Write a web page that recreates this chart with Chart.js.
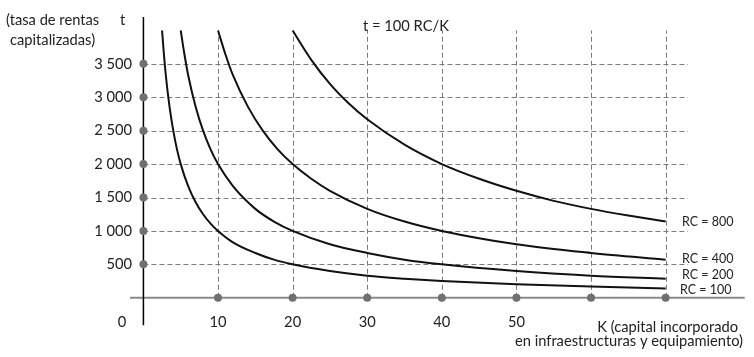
<!DOCTYPE html>
<html>
<head>
<meta charset="utf-8">
<script src="https://cdn.jsdelivr.net/npm/chart.js@4/dist/chart.umd.min.js"></script>
<style>
  body { margin: 0; background: #fff; }
  #wrap { width: 754px; height: 357px; }
</style>
</head>
<body>
<div id="wrap"><canvas id="rentasChart"></canvas></div>
<script>
// curves t = 100 RC / K
const k100 = [2.5, 2.75, 3, 3.5, 4, 4.5, 5, 6, 7, 8, 9, 10, 12, 15, 17.5, 20, 25, 30, 35, 40, 50, 60, 70];
const t100 = [4000, 3640, 3330, 2860, 2500, 2220, 2000, 1670, 1430, 1250, 1110, 1000, 830, 670, 570, 500, 400, 330, 285, 250, 200, 170, 140];
const k200 = [5, 5.5, 6, 7, 8, 9, 10, 12, 15, 17.5, 20, 25, 30, 35, 40, 50, 60, 70];
const t200 = [4000, 3640, 3330, 2860, 2500, 2220, 2000, 1670, 1330, 1140, 1000, 800, 670, 570, 500, 400, 330, 285];
const k400 = [10, 11, 12, 14, 16, 18, 20, 22.5, 25, 30, 35, 40, 50, 60, 70];
const t400 = [4000, 3640, 3330, 2860, 2500, 2220, 2000, 1780, 1600, 1330, 1140, 1000, 800, 670, 570];
const k800 = [20, 22.5, 25, 27.5, 30, 35, 40, 45, 50, 55, 60, 65, 70];
const t800 = [4000, 3560, 3200, 2910, 2670, 2290, 2000, 1780, 1600, 1450, 1330, 1230, 1140];

const curveNames = ['RC = 100', 'RC = 200', 'RC = 400', 'RC = 800'];
const curveLabelY = [115, 340, 580, 1135];

const xTicks = [10, 20, 30, 40, 50, 60, 70];
const xTickLabels = ['10', '20', '30', '40', '50', '', ''];
const yTicks = [500, 1000, 1500, 2000, 2500, 3000, 3500];
const yTickLabels = ['500', '1 000', '1 500', '2 000', '2 500', '3 000', '3 500'];

const FONT = 'Lato, "Open Sans", sans-serif';

const toPoints = (ks, ts) => ks.map((k, i) => ({ x: k, y: ts[i] }));

const curve = (ks, ts) => ({
  type: 'line',
  data: toPoints(ks, ts),
  borderColor: '#111',
  borderWidth: 2,
  pointRadius: 0,
  cubicInterpolationMode: 'monotone',
  fill: false,
  order: 2
});

const decor = {
  id: 'decor',
  beforeDatasetsDraw(chart) {
    const { ctx, scales: { x, y } } = chart;
    const seg = (x1, y1, x2, y2) => { ctx.beginPath(); ctx.moveTo(x1, y1); ctx.lineTo(x2, y2); ctx.stroke(); };
    ctx.save();
    // dashed grid
    ctx.strokeStyle = '#7a7a7a';
    ctx.lineWidth = 1;
    ctx.setLineDash([5, 3]);
    yTicks.forEach(v => {
      const py = Math.round(y.getPixelForValue(v)) + 0.5;
      seg(x.getPixelForValue(0), py, x.getPixelForValue(73), py);
    });
    xTicks.forEach(v => {
      const px = Math.round(x.getPixelForValue(v)) + 0.5;
      seg(px, y.getPixelForValue(0), px, y.getPixelForValue(4000));
    });
    ctx.setLineDash([]);
    // axes
    ctx.strokeStyle = '#8a8a8a';
    ctx.lineWidth = 2;
    seg(x.getPixelForValue(-1.8), y.getPixelForValue(0), x.getPixelForValue(80.6), y.getPixelForValue(0));
    ctx.strokeStyle = '#000';
    ctx.lineWidth = 1.5;
    seg(x.getPixelForValue(0), y.getPixelForValue(4200), x.getPixelForValue(0), y.getPixelForValue(-410));
    ctx.restore();
  },
  afterDraw(chart) {
    const { ctx, scales: { x, y } } = chart;
    ctx.save();
    ctx.fillStyle = '#222';
    ctx.textBaseline = 'middle';
    ctx.font = '14.7px ' + FONT;

    ctx.textAlign = 'right';
    yTicks.forEach((v, i) => ctx.fillText(yTickLabels[i], 132, y.getPixelForValue(v)));

    ctx.textAlign = 'center';
    xTicks.forEach((v, i) => ctx.fillText(xTickLabels[i], x.getPixelForValue(v), 322));
    ctx.fillText('0', 122, 322);

    ctx.textAlign = 'left';
    ctx.fillText('(tasa de rentas', 6, 20);
    ctx.fillText('capitalizadas)', 10, 40);
    ctx.fillText('t', 120, 20);
    ctx.fillText('t = 100 RC/K', 363, 26);

    ctx.textAlign = 'right';
    ctx.fillText('K (capital incorporado', 738, 327);
    ctx.fillText('en infraestructuras y equipamiento)', 743, 341);

    ctx.textAlign = 'left';
    ctx.font = '12.5px ' + FONT;
    curveNames.forEach((n, i) => ctx.fillText(n, i === 0 ? 680 : 682, y.getPixelForValue(curveLabelY[i])));
    ctx.restore();
  }
};

new Chart(document.getElementById('rentasChart'), {
  type: 'line',
  data: {
    datasets: [
      curve(k100, t100),
      curve(k200, t200),
      curve(k400, t400),
      curve(k800, t800),
      {
        type: 'scatter',
        data: xTicks.map(k => ({ x: k, y: 0 })),
        pointRadius: 4,
        pointBackgroundColor: '#707070',
        pointBorderWidth: 0,
        order: 1
      },
      {
        type: 'scatter',
        data: yTicks.map(t => ({ x: 0, y: t })),
        pointRadius: 4,
        pointBackgroundColor: '#707070',
        pointBorderWidth: 0,
        order: 1
      }
    ]
  },
  options: {
    responsive: true,
    maintainAspectRatio: false,
    animation: false,
    layout: { padding: { left: 128.5, right: 6.3, top: 17.1, bottom: 31.2 } },
    scales: {
      x: { type: 'linear', min: -2, max: 81, display: false },
      y: { type: 'linear', min: -420, max: 4200, display: false }
    },
    plugins: {
      legend: { display: false },
      tooltip: { enabled: false }
    }
  },
  plugins: [decor]
});
</script>
</body>
</html>
